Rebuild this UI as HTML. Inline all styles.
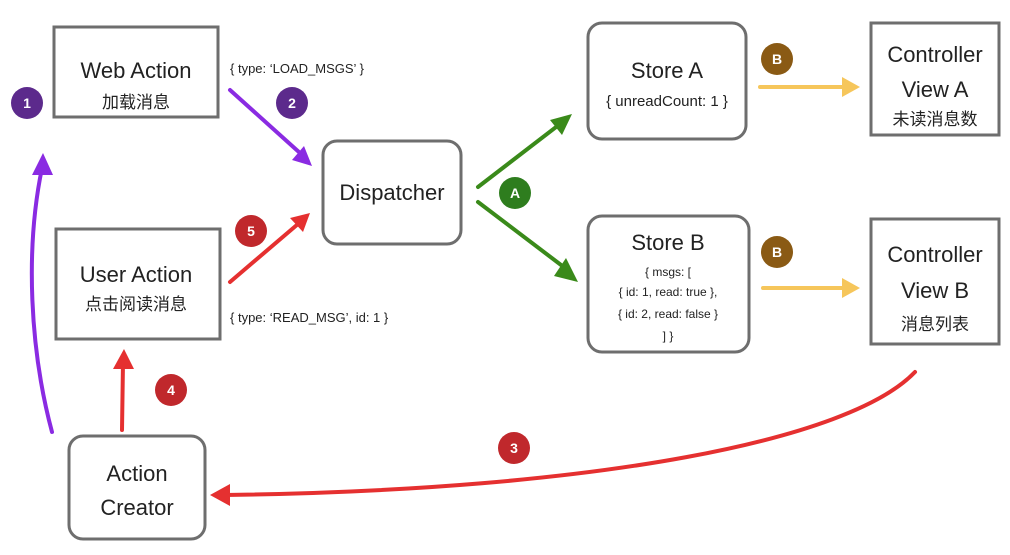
<!DOCTYPE html>
<html><head><meta charset="utf-8"><style>
body{margin:0;background:#fff;}
svg{display:block}
.t{font-family:"Liberation Sans","Noto Sans CJK SC",sans-serif;fill:#222;text-anchor:middle}
.s{font-family:"Liberation Sans",sans-serif;fill:#222;font-size:13px}
.n{font-family:"Liberation Sans",sans-serif;fill:#fff;font-size:14px;font-weight:bold;text-anchor:middle}
</style></head><body>
<svg width="1010" height="555" viewBox="0 0 1010 555">
<g fill="none" stroke="#6e6e6e" stroke-width="3">
<rect x="54" y="27" width="164" height="90"/>
<rect x="323" y="141" width="138" height="103" rx="14"/>
<rect x="588" y="23" width="158" height="116" rx="14"/>
<rect x="871" y="23" width="128" height="112"/>
<rect x="588" y="216" width="161" height="136" rx="14"/>
<rect x="871" y="219" width="128" height="125"/>
<rect x="56" y="229" width="164" height="110"/>
<rect x="69" y="436" width="136" height="103" rx="14"/>
</g>
<g class="t" font-size="22">
<text x="136" y="78">Web Action</text>
<text x="136" y="108" font-size="17">加载消息</text>
<text x="392" y="200">Dispatcher</text>
<text x="667" y="78">Store A</text>
<text x="667" y="106" font-size="15">{ unreadCount: 1 }</text>
<text x="935" y="62">Controller</text>
<text x="935" y="97">View A</text>
<text x="935" y="125" font-size="17">未读消息数</text>
<text x="668" y="250">Store B</text>
<text x="668" y="276" font-size="12">{ msgs: [</text>
<text x="668" y="296" font-size="12">{ id: 1, read: true },</text>
<text x="668" y="318" font-size="12">{ id: 2, read: false }</text>
<text x="668" y="340" font-size="12">] }</text>
<text x="935" y="262">Controller</text>
<text x="935" y="298">View B</text>
<text x="935" y="330" font-size="17">消息列表</text>
<text x="136" y="282">User Action</text>
<text x="136" y="310" font-size="17">点击阅读消息</text>
<text x="137" y="481">Action</text>
<text x="137" y="515">Creator</text>
</g>
<text class="s" x="230" y="73">{ type: ‘LOAD_MSGS’ }</text>
<text class="s" x="230" y="322">{ type: ‘READ_MSG’, id: 1 }</text>
<g fill="none" stroke-width="4" stroke-linecap="round">
<path d="M230,90 L300,153" stroke="#8a2be2"/>
<path d="M52,432 C30,350 25,250 42,168" stroke="#8a2be2"/>
<path d="M230,282 L298,224" stroke="#e53030"/>
<path d="M122,430 L123,362" stroke="#e53030"/>
<path d="M915,372 C850,440 600,490 225,495" stroke="#e53030"/>
<path d="M478,187 L560,124" stroke="#3a8a1a"/>
<path d="M478,202 L565,268" stroke="#3a8a1a"/>
<path d="M760,87 L845,87" stroke="#f6c65b"/>
<path d="M763,288 L845,288" stroke="#f6c65b"/>
</g>
<g stroke="none">
<polygon points="312,166 292,160 304,146" fill="#8a2be2"/>
<polygon points="43,153 32,175 53,175" fill="#8a2be2"/>
<polygon points="310,213 290,218 303,232" fill="#e53030"/>
<polygon points="124,349 113,369 134,369" fill="#e53030"/>
<polygon points="210,495 230,484 230,506" fill="#e53030"/>
<polygon points="572,114 550,120 562,135" fill="#3a8a1a"/>
<polygon points="578,282 566,258 554,276" fill="#3a8a1a"/>
<polygon points="860,87 842,77 842,97" fill="#f6c65b"/>
<polygon points="860,288 842,278 842,298" fill="#f6c65b"/>
</g>
<circle cx="27" cy="103" r="16" fill="#5c2a8c"/><text class="n" x="27" y="108">1</text>
<circle cx="292" cy="103" r="16" fill="#5c2a8c"/><text class="n" x="292" y="108">2</text>
<circle cx="514" cy="448" r="16" fill="#c0282c"/><text class="n" x="514" y="453">3</text>
<circle cx="171" cy="390" r="16" fill="#c0282c"/><text class="n" x="171" y="395">4</text>
<circle cx="251" cy="231" r="16" fill="#c0282c"/><text class="n" x="251" y="236">5</text>
<circle cx="515" cy="193" r="16" fill="#2e7d1e"/><text class="n" x="515" y="198">A</text>
<circle cx="777" cy="59" r="16" fill="#8a5a14"/><text class="n" x="777" y="64">B</text>
<circle cx="777" cy="252" r="16" fill="#8a5a14"/><text class="n" x="777" y="257">B</text>
</svg>
</body></html>
